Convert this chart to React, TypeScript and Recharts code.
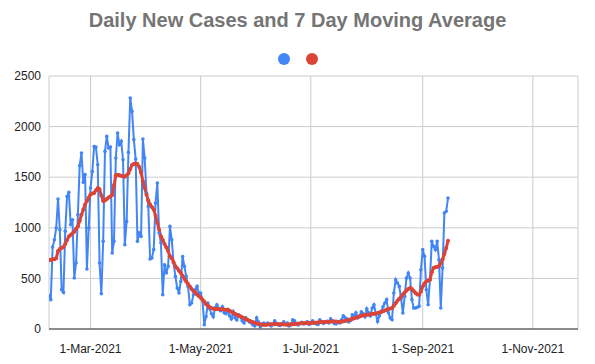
import { LineChart, Line, XAxis, YAxis, CartesianGrid } from 'recharts';

// daily new cases, one value per day starting 6-Feb-2021
const dailyCases = [
  329, 290, 810, 882, 998, 1285, 981, 388, 362, 965,
  1310, 1350, 1030, 1080, 504, 652, 1130, 1614, 1739, 1449,
  1525, 593, 998, 1393, 1557, 1804, 1798, 1623, 652, 349,
  866, 1755, 1903, 1788, 1798, 751, 866, 1690, 1937, 1821,
  1854, 1673, 833, 1063, 1745, 2283, 2150, 1871, 1680, 866,
  949, 915, 1877, 1690, 1344, 1211, 692, 702, 784, 1245,
  1443, 949, 850, 339, 635, 553, 619, 1014, 882, 652,
  520, 405, 356, 470, 717, 619, 520, 421, 240, 257,
  339, 388, 421, 356, 356, 290, 42, 124, 257,
  200, 150, 120, 210, 240, 200, 180, 220, 160, 150, 190,
  130, 100, 170, 110, 90, 140, 120, 80, 60, 110, 90, 70, 60,
  40, 30, 110, 70, 20, 50, 60, 40,
  60, 50, 30, 45, 80, 55, 40, 35, 50, 70, 45, 60, 30, 40, 90, 80, 50, 40, 55, 65, 50, 60, 70, 45, 55,
  80, 60, 50, 45, 90, 70, 55, 65, 75, 60, 100, 80, 55, 50, 70, 60, 90, 130, 110, 100,
  70, 85, 140, 120, 160, 110, 130, 170, 150, 120, 200,
  160, 130, 207, 240, 150, 75, 130, 174, 220, 257,
  290, 160, 108, 92, 356, 487, 454, 421, 300, 158,
  322, 503, 553, 503, 290, 207, 207, 215, 224, 586,
  784, 718, 388, 240, 487, 866, 816, 783, 866, 685,
  207, 603, 1146, 1163, 1294,
];

// 7 day moving average, same days
const movingAvg = [
  680, 685, 690, 690, 700, 770, 790, 800, 810, 840,
  880, 915, 930, 945, 960, 990, 1014, 1070, 1130, 1180,
  1230, 1265, 1300, 1330, 1340, 1345, 1370, 1393, 1380, 1320,
  1265, 1270, 1285, 1300, 1310, 1325, 1420, 1520, 1525, 1520,
  1515, 1510, 1505, 1520, 1540, 1580, 1620, 1630, 1635, 1630,
  1600, 1545, 1460, 1395, 1330, 1270, 1230, 1205, 1180, 1120,
  1050, 980, 915, 880, 840, 806, 770, 720, 700, 660,
  620, 600, 575, 553, 525, 495, 470, 445, 420, 395,
  375, 360, 340, 325, 310, 290, 270, 245, 230,
  215, 207, 200, 198, 197, 197, 196, 195, 193, 191, 190,
  180, 170, 160, 150, 140, 130, 125, 115, 105, 98, 90, 82, 75,
  68, 60, 55, 50, 46, 43, 42, 42,
  44, 45, 46, 47, 48, 49, 48, 47, 46, 45, 44, 43, 44, 46, 48, 50, 52, 54, 55, 56, 57, 58, 59, 59, 60,
  61, 62, 63, 65, 66, 68, 69, 70, 71, 72, 73, 74, 75, 74, 72, 70, 72, 76, 80, 85,
  90, 95, 100, 106, 112, 118, 124, 130, 135, 138, 140,
  142, 145, 148, 151, 154, 157, 162, 168, 175, 182,
  190, 197, 203, 207, 230, 255, 280, 300, 318, 340,
  360, 380, 395, 405, 395, 375, 355, 342, 339, 370,
  420, 450, 470, 480, 487, 560, 603, 610, 615, 619,
  650, 690, 740, 800, 872,
];

const yTicks = [0, 500, 1000, 1500, 2000, 2500];
const MONTHS = ['Jan', 'Feb', 'Mar', 'Apr', 'May', 'Jun', 'Jul', 'Aug', 'Sep', 'Oct', 'Nov', 'Dec'];

const DAY = 86400000;
const START = Date.UTC(2021, 1, 6);
const END = Date.UTC(2021, 10, 26);
const xTicks = [
  Date.UTC(2021, 2, 1),
  Date.UTC(2021, 4, 1),
  Date.UTC(2021, 6, 1),
  Date.UTC(2021, 8, 1),
  Date.UTC(2021, 10, 1),
];

const BLUE = '#4285F4';
const RED = '#DB4437';

const data = dailyCases.map((cases, i) => ({
  t: START + i * DAY,
  cases,
  avg: movingAvg[i],
}));

const formatDate = (t: number) => {
  const d = new Date(t);
  return `${d.getUTCDate()}-${MONTHS[d.getUTCMonth()]}-${d.getUTCFullYear()}`;
};

const App = () => {
  return (
    <div
      style={{
        position: 'absolute',
        top: 0,
        left: 0,
        width: 595,
        height: 364,
        background: '#fff',
        fontFamily: '"Liberation Sans", Arial, sans-serif',
      }}
    >
      <div
        style={{
          position: 'absolute',
          top: 9,
          left: 0,
          width: 595,
          textAlign: 'center',
          fontSize: 20,
          fontWeight: 'bold',
          color: '#757575',
        }}
      >
        Daily New Cases and 7 Day Moving Average
      </div>
      <svg style={{ position: 'absolute', top: 52, left: 270 }} width={60} height={14}>
        <circle cx={14} cy={7} r={6} fill={BLUE} />
        <circle cx={42} cy={7} r={6} fill={RED} />
      </svg>
      <LineChart
        width={595}
        height={364}
        data={data}
        margin={{ top: 76, right: 17, bottom: 0, left: 0 }}
      >
        <CartesianGrid stroke="#cccccc" />
        <XAxis
          dataKey="t"
          type="number"
          domain={[START, END]}
          ticks={xTicks}
          tickFormatter={formatDate}
          allowDataOverflow
          height={35}
          tickLine={false}
          tickMargin={9}
          axisLine={{ stroke: '#333' }}
          tick={{ fontSize: 12, fill: '#222' }}
        />
        <YAxis
          domain={[0, 2500]}
          ticks={yTicks}
          width={49}
          axisLine={false}
          tickLine={false}
          tick={{ fontSize: 12, fill: '#222' }}
        />
        <Line
          dataKey="cases"
          stroke={BLUE}
          strokeWidth={2}
          dot={{ r: 1.8, fill: BLUE, stroke: BLUE, strokeWidth: 0 }}
          isAnimationActive={false}
        />
        <Line
          dataKey="avg"
          stroke={RED}
          strokeWidth={3}
          dot={{ r: 2, fill: RED, stroke: RED, strokeWidth: 0 }}
          isAnimationActive={false}
        />
      </LineChart>
    </div>
  );
};

export default App;
